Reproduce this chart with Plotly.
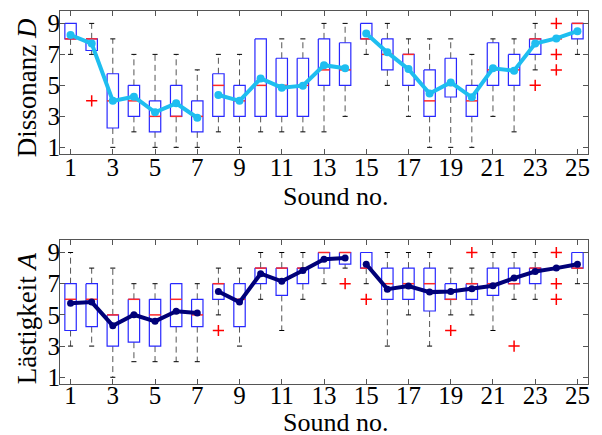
import plotly.graph_objects as go
from plotly.subplots import make_subplots

sounds = list(range(1, 26))
groups = [(0, 7), (7, 14), (14, 25)]

# Dissonanz D
D_q1 = [8, 7.25, 2.25, 3, 2, 3, 2, 3, 3, 3, 3, 3, 5, 5, 8, 6, 5, 3, 4.25, 3, 5, 5, 7, 8, 8]
D_med = [8, 8, 4, 4, 3, 3, 3, 5, 4, 5, 5, 5, 6, 6, 8, 7, 7, 4, 5, 4, 6, 6, 8, 8, 9]
D_q3 = [9, 8, 5.75, 5, 4, 5, 4, 5.75, 5, 8, 6.75, 6.75, 8, 7.75, 9, 8, 7, 6, 6.75, 5, 7.75, 7, 8, 8, 9]
D_lo = [7, 7, 1, 2, 1, 1, 1, 2, 1, 2, 2, 2, 2, 3, 7, 5, 3, 1, 1, 1, 3, 2, 6, 8, 7]
D_hi = [9, 9, 8, 7, 7, 7, 6, 7, 7, 8, 8, 8, 9, 9, 9, 9, 8, 8, 8, 7, 8, 8, 9, 8, 9]
D_out_x = [2, 23, 24, 24, 24]
D_out_y = [4, 5, 9, 7, 6]
D_mean = [8.25, 7.7, 4.0, 4.27, 3.26, 3.84, 2.91, 4.38, 4.0, 5.45, 4.85, 4.98, 6.3, 6.1,
          8.35, 7.13, 6.05, 4.47, 5.19, 4.23, 6.1, 5.95, 7.7, 8.03, 8.5]

# Lästigkeit A
A_q1 = [4, 4.25, 3, 3.25, 3, 4.25, 4.25, 6, 4.25, 7, 6.25, 7, 8, 8.25, 8, 6, 6, 5.25, 6, 6, 6.25, 7, 7, 8, 8]
A_med = [6, 6, 5, 6, 5, 6, 5, 7, 6, 8, 8, 8, 9, 9, 8, 7, 7, 7, 6, 7, 7, 7, 8, 8, 8]
A_q3 = [7, 7, 5, 6, 6, 7, 6, 7, 7, 8, 8, 8, 9, 9, 9, 8, 8, 8, 7, 7, 8, 8, 8, 8, 9]
A_lo = [3, 3, 1, 2, 2, 2, 2, 5, 3, 6, 4, 6, 7, 8, 7, 3, 5, 3, 5, 5, 4, 6, 6, 8, 7]
A_hi = [9, 8, 8, 7, 7, 7, 7, 8, 8, 9, 9, 9, 9, 9, 9, 9, 9, 9, 8, 8, 9, 9, 9, 8, 9]
A_out_x = [8, 14, 15, 19, 20, 22, 24, 24, 24]
A_out_y = [4, 7, 6, 4, 9, 3, 9, 7, 6]
A_mean = [5.74, 5.82, 4.31, 5.01, 4.59, 5.23, 5.12, 6.5, 5.82, 7.64, 7.15, 7.85, 8.57, 8.64,
          8.25, 6.65, 6.85, 6.46, 6.5, 6.68, 6.87, 7.36, 7.78, 8.0, 8.25]

x_ticks = list(range(1, 26, 2))
y_ticks = [1, 3, 5, 7, 9]
x_title = "Sound no."
y_titles = ["Dissonanz <i>D</i>", "Lästigkeit <i>A</i>"]

BOX_HW = 0.27
CAP_HW = 0.12
SERIF = "Liberation Serif"
PAGE_OFFSET = 8  # default body margin of the html page

fig = make_subplots(rows=2, cols=1, vertical_spacing=0.23)


def add_boxplot(row, q1, med, q3, lo, hi, ox, oy, mean, mean_color, msize):
    bx, by, wx, wy, cx, cy, mx, my = [], [], [], [], [], [], [], []
    for s, a, m, b, l, h in zip(sounds, q1, med, q3, lo, hi):
        if b > a:
            bx += [s - BOX_HW, s + BOX_HW, s + BOX_HW, s - BOX_HW, s - BOX_HW, None]
            by += [b, b, a, a, b, None]
        if h > b:
            wx += [s, s, None]
            wy += [b, h, None]
            cx += [s - CAP_HW, s + CAP_HW, None]
            cy += [h, h, None]
        if l < a:
            wx += [s, s, None]
            wy += [a, l, None]
            cx += [s - CAP_HW, s + CAP_HW, None]
            cy += [l, l, None]
        mx += [s - BOX_HW, s + BOX_HW, None]
        my += [m, m, None]
    fig.add_trace(go.Scatter(x=wx, y=wy, mode="lines", line=dict(color="#555", width=1, dash="6px,4px"),
                             hoverinfo="skip"), row=row, col=1)
    fig.add_trace(go.Scatter(x=cx, y=cy, mode="lines", line=dict(color="black", width=1),
                             hoverinfo="skip"), row=row, col=1)
    fig.add_trace(go.Scatter(x=bx, y=by, mode="lines", line=dict(color="rgb(40,40,255)", width=1.2),
                             hoverinfo="skip"), row=row, col=1)
    fig.add_trace(go.Scatter(x=mx, y=my, mode="lines", line=dict(color="rgb(255,40,40)", width=1.5),
                             hoverinfo="skip"), row=row, col=1)
    fig.add_trace(go.Scatter(x=ox, y=oy, mode="markers",
                             marker=dict(symbol="cross-thin", size=8, line=dict(color="red", width=1.5)),
                             hoverinfo="skip"), row=row, col=1)
    for g0, g1 in groups:
        fig.add_trace(go.Scatter(x=sounds[g0:g1], y=mean[g0:g1], mode="lines+markers",
                                 line=dict(color=mean_color, width=4),
                                 marker=dict(color=mean_color, size=msize)), row=row, col=1)


add_boxplot(1, D_q1, D_med, D_q3, D_lo, D_hi, D_out_x, D_out_y, D_mean, "rgb(30,190,240)", 8)
add_boxplot(2, A_q1, A_med, A_q3, A_lo, A_hi, A_out_x, A_out_y, A_mean, "rgb(0,0,120)", 7)

tick_font = dict(family=SERIF, size=25, color="black")
title_font = dict(family=SERIF, size=26, color="black")
for r, x_standoff in ((1, -9), (2, -11)):
    fig.update_xaxes(range=[0.5, 25.5], tickvals=x_ticks, ticks="inside", ticklen=5,
                     tickcolor="#555", showline=True, linecolor="#555", linewidth=1, mirror="ticks",
                     showgrid=False, zeroline=False, tickfont=tick_font, automargin=False,
                     ticklabelstandoff=x_standoff, row=r, col=1)
    fig.update_yaxes(range=[0.57, 9.8], tickvals=y_ticks, ticks="inside", ticklen=5,
                     tickcolor="#555", showline=True, linecolor="#555", linewidth=1, mirror="ticks",
                     showgrid=False, zeroline=False, tickfont=tick_font, automargin=False,
                     ticklabelstandoff=-6, row=r, col=1)
fig.update_layout(yaxis=dict(domain=[0.6166, 1.0]), yaxis2=dict(domain=[0.0, 0.386]))

# axis titles as annotations (paper coords of the plot area)
for ytitle_y, xtitle_y, ytext in [(0.7936, 0.505, y_titles[0]), (0.177, -0.101, y_titles[1])]:
    fig.add_annotation(text=x_title, xref="paper", yref="paper", x=0.521, y=xtitle_y,
                       xanchor="center", yanchor="middle", showarrow=False, font=title_font,
                       height=22, valign="middle")
    fig.add_annotation(text=ytext, xref="paper", yref="paper", x=-0.062, y=ytitle_y,
                       xanchor="center", yanchor="middle", textangle=-90, showarrow=False,
                       font=dict(family=SERIF, size=27, color="black"))

fig.update_layout(width=602 - PAGE_OFFSET, height=435 - PAGE_OFFSET,
                  margin=dict(l=60 - PAGE_OFFSET, r=14, t=11 - PAGE_OFFSET, b=51),
                  showlegend=False, plot_bgcolor="white", paper_bgcolor="white",
                  font=dict(family=SERIF))
fig.write_html("out.html")
